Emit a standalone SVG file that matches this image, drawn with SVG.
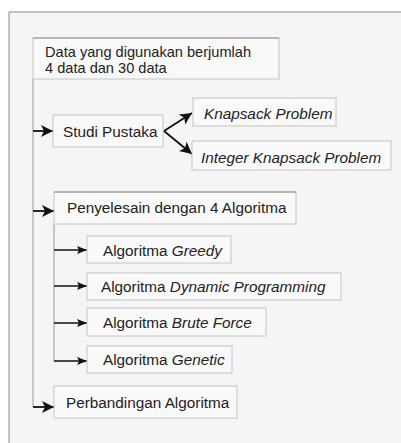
<svg xmlns="http://www.w3.org/2000/svg" width="401" height="443" viewBox="0 0 401 443">
<defs>
<style>
.box{fill:#faf9fa;stroke:#c4c4c4;stroke-width:1}
.top{stroke:#8c8c8c;stroke-width:1}
.t{font-family:"Liberation Sans",Arial,sans-serif;font-size:15.3px;fill:#222}
.d{font-size:14.6px}
.i{font-style:italic}
.trunk{stroke:#a8a8a8;stroke-width:1.2;fill:none}
.arr{stroke:#111;stroke-width:1.8;fill:none}
.arr2{stroke:#111;stroke-width:1.5;fill:none}
</style>
<marker id="big" markerUnits="userSpaceOnUse" markerWidth="14" markerHeight="14" refX="12" refY="6" orient="auto">
<path d="M0,0 L12,6 L0,12 L3,6 Z" fill="#111"/>
</marker>
<marker id="small" markerUnits="userSpaceOnUse" markerWidth="12" markerHeight="10" refX="10" refY="4" orient="auto">
<path d="M0,0 L10,4 L0,8 L2,4 Z" fill="#111"/>
</marker>
</defs>
<rect x="0" y="0" width="401" height="443" fill="#ffffff"/>
<rect x="9" y="12" width="400" height="440" fill="#f6f4f6"/>
<path d="M9,443 V12 H401" stroke="#8a8a8a" stroke-width="1" fill="none"/>

<g id="connectors">
<path class="trunk" d="M33,79 V407"/>
<path class="trunk" d="M54,224 V361"/>
<path class="arr" d="M33,131 H53" marker-end="url(#big)"/>
<path class="arr" d="M164,131 L192,113" marker-end="url(#big)"/>
<path class="arr" d="M164,131 L192,154" marker-end="url(#big)"/>
<path class="arr" d="M33,211 H54" marker-end="url(#big)"/>
<path class="arr2" d="M54,250 H87" marker-end="url(#small)"/>
<path class="arr2" d="M54,286 H87" marker-end="url(#small)"/>
<path class="arr2" d="M54,323 H87" marker-end="url(#small)"/>
<path class="arr2" d="M54,361 H87" marker-end="url(#small)"/>
<path class="arr" d="M33,407 H54" marker-end="url(#big)"/>
</g>

<g id="n-data">
<rect class="box" x="33" y="38" width="246" height="41"/>
<path class="top" d="M33,38 H279"/>
<text class="t d" x="45" y="57">Data yang digunakan berjumlah</text>
<text class="t d" x="45" y="73">4 data dan 30 data</text>
</g>

<g id="n-studi">
<rect class="box" x="53" y="115" width="110" height="32"/>
<text class="t" x="63" y="137">Studi Pustaka</text>
</g>

<g id="n-knapsack">
<rect class="box" x="193" y="98" width="143" height="28"/>
<text class="t i" x="204" y="119">Knapsack Problem</text>
</g>

<g id="n-integer">
<rect class="box" x="192" y="141" width="199" height="29"/>
<text class="t i" x="201" y="163">Integer Knapsack Problem</text>
</g>

<g id="n-penyelesain">
<rect class="box" x="54" y="192" width="242" height="32"/>
<path class="top" d="M54,192 H296"/>
<text class="t" x="67" y="213">Penyelesain dengan 4 Algoritma</text>
</g>

<g id="n-greedy">
<rect class="box" x="87" y="236" width="144" height="27"/>
<text class="t" x="103" y="256">Algoritma <tspan class="i">Greedy</tspan></text>
</g>

<g id="n-dp">
<rect class="box" x="87" y="273" width="254" height="27"/>
<text class="t" x="101" y="292">Algoritma <tspan class="i">Dynamic Programming</tspan></text>
</g>

<g id="n-brute">
<rect class="box" x="87" y="308" width="179" height="28"/>
<text class="t" x="103" y="328">Algoritma <tspan class="i">Brute Force</tspan></text>
</g>

<g id="n-genetic">
<rect class="box" x="87" y="346" width="145" height="27"/>
<text class="t" x="103" y="365">Algoritma <tspan class="i">Genetic</tspan></text>
</g>

<g id="n-perbandingan">
<rect class="box" x="54" y="386" width="183" height="32"/>
<text class="t" x="66" y="408">Perbandingan Algoritma</text>
</g>
</svg>
